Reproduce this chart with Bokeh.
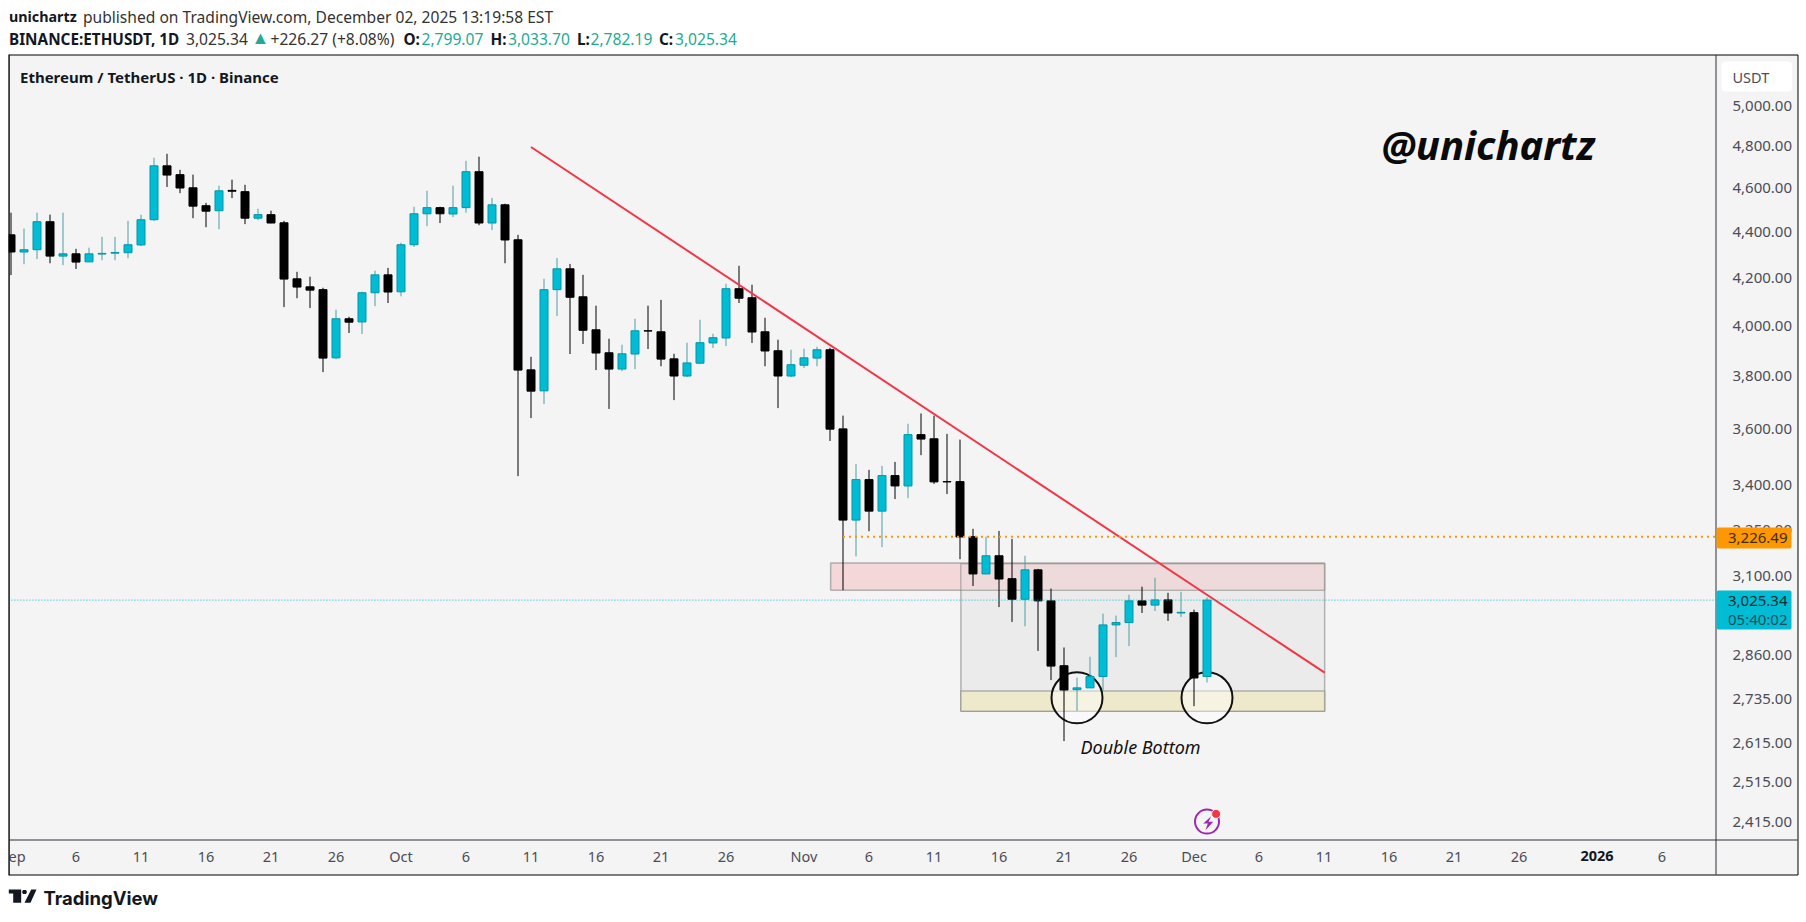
from bokeh.embed import file_html
from bokeh.models import BoxAnnotation, FixedTicker, Label, PolyAnnotation, Range1d
from bokeh.plotting import figure
from bokeh.resources import INLINE

# daily candles, 1 Sep - 2 Dec 2025
opens = [4387, 4311, 4321, 4446, 4293, 4303, 4268, 4302, 4306, 4308, 4342, 4455, 4706, 4664, 4602, 4519,
         4496, 4590, 4584, 4462, 4478, 4441, 4195, 4161, 4149, 3871, 4028, 4015, 4136, 4212, 4140, 4343,
         4482, 4510, 4481, 4510, 4678, 4440, 4523, 4365, 3824, 3743, 4149, 4238, 4119, 3983, 3891, 3827,
         3886, 3979, 3975, 3867, 3800, 3850, 3930, 3950, 4153, 4115, 3975, 3899, 3800, 3842, 3870, 3903,
         3601, 3282, 3420, 3312, 3434, 3398, 3580, 3565, 3413, 3413, 3227, 3107, 3165, 3092, 3028, 3120,
         3023, 2830, 2762, 2767, 2799, 2950, 2957, 3023, 3010, 3026, 2986, 2987, 2799.07]
highs = [4487, 4415, 4487, 4478, 4487, 4325, 4330, 4378, 4378, 4450, 4478, 4745, 4764, 4687, 4664, 4532,
         4612, 4640, 4616, 4505, 4496, 4450, 4225, 4204, 4157, 4065, 4036, 4140, 4230, 4242, 4352, 4514,
         4588, 4514, 4612, 4730, 4750, 4555, 4528, 4387, 3875, 4195, 4285, 4259, 4212, 4082, 3947, 3923,
         4028, 4082, 4106, 3887, 3931, 4024, 3967, 4174, 4251, 4170, 4032, 3943, 3903, 3907, 3915, 3911,
         3650, 3475, 3454, 3468, 3482, 3620, 3658, 3650, 3583, 3562, 3253, 3227, 3246, 3220, 3165, 3123,
         3061, 2883, 2796, 2856, 2984, 2978, 3042, 3067, 3095, 3048, 3051, 2996, 3033.70]
lows = [4211, 4258, 4280, 4262, 4254, 4237, 4267, 4275, 4275, 4284, 4337, 4449, 4606, 4577, 4462, 4421,
        4412, 4554, 4435, 4453, 4439, 4076, 4113, 4072, 3815, 3866, 3970, 3966, 4080, 4093, 4121, 4333,
        4426, 4440, 4467, 4487, 4430, 4408, 4262, 3432, 3641, 3693, 4039, 3886, 3926, 3823, 3675, 3819,
        3827, 3906, 3838, 3708, 3796, 3846, 3910, 3918, 4093, 3930, 3838, 3678, 3796, 3831, 3838, 3557,
        3056, 3163, 3245, 3193, 3353, 3356, 3506, 3405, 3370, 3154, 3069, 3107, 3004, 2959, 2946, 2873,
        2789, 2621, 2703, 2767, 2758, 2855, 2887, 2986, 2992, 2962, 2974, 2716, 2782.19]
closes = [4311, 4321, 4446, 4293, 4303, 4267, 4303, 4305, 4309, 4343, 4455, 4706, 4662, 4601, 4517, 4494,
          4588, 4586, 4462, 4478, 4440, 4194, 4160, 4147, 3870, 4028, 4014, 4136, 4212, 4139, 4343, 4482,
          4510, 4482, 4510, 4678, 4440, 4523, 4364, 3823, 3742, 4149, 4238, 4117, 3981, 3890, 3827, 3887,
          3979, 3978, 3866, 3800, 3851, 3931, 3951, 4153, 4113, 3974, 3898, 3800, 3844, 3871, 3903, 3600,
          3282, 3420, 3312, 3434, 3398, 3580, 3564, 3412, 3412, 3226, 3107, 3165, 3091, 3028, 3120, 3023,
          2829, 2761, 2767, 2799, 2950, 2957, 3023, 3010, 3026, 2986, 2988, 2795, 3025.34]

price_ticks = [5000, 4800, 4600, 4400, 4200, 4000, 3800, 3600, 3400, 3250, 3100, 2860, 2735, 2615, 2515, 2415]
date_ticks = [0, 5, 10, 15, 20, 25, 30, 35, 40, 45, 50, 55, 61, 66, 71, 76, 81, 86, 91, 96, 101, 106, 111, 116, 127]
date_labels = ["Sep", "6", "11", "16", "21", "26", "Oct", "6", "11", "16", "21", "26", "Nov", "6", "11", "16",
               "21", "26", "Dec", "6", "11", "16", "21", "26", "6"]

# drawings on the chart, day index / price
trend_days = [40, 101.05]
trend_prices = [4797, 2810]
last_price = 3025.34
level_price = 3226.49
level_start = 64
chart_end = 131.115
chart_floor = 2371
red_zone = (63.05, 101.05, 3142, 3056)
grey_zone = (73.07, 101.05, 3139, 2702)
yellow_zone = (73.07, 101.05, 2758, 2702)
overlap_zone = (73.07, 101.05, 3139, 3056)
bottom_days = [82, 92]
bottom_prices = [2739, 2739]

FONT = "Noto Sans"
DARK = "#131722"
GREEN = "#22ab94"
W, H = 1800, 915
SHIFT = 1  # canvas sits 1px lower than the picture's y

# the frame fills the canvas, labels outside the frame get clipped otherwise
p = figure(width=W, height=H, output_backend="svg", toolbar_location=None,
           y_axis_type="log", y_axis_location="right",
           x_range=Range1d(-10.5 / 13, (W - 10.5) / 13), y_range=Range1d(2195, 5568),
           min_border=0, background_fill_color="white", border_fill_color="white", outline_line_color=None)
p.grid.visible = False


def box(x0, y0, x1, y1, **kw):
    b = BoxAnnotation(left=x0, right=x1, top=H - y0 + SHIFT, bottom=H - y1 + SHIFT,
                      left_units="screen", right_units="screen", top_units="screen", bottom_units="screen", **kw)
    p.add_layout(b)


def text(x, y, s, size=15, color=DARK, style="normal", align="left", font=FONT):
    p.add_layout(Label(x=x, y=H - y + SHIFT, x_units="screen", y_units="screen", text=s, text_font=font,
                       text_font_size=f"{size}px", text_color=color, text_font_style=style,
                       text_align=align, text_baseline="middle"))


def poly(points, color):
    p.add_layout(PolyAnnotation(xs=[a for a, b in points], ys=[H - b + SHIFT for a, b in points],
                                xs_units="screen", ys_units="screen", fill_color=color, fill_alpha=1,
                                line_color=None, level="annotation"))


box(8.5, 55.5, 1797.5, 875.5, fill_color="#f4f4f4", fill_alpha=1, line_color="black", line_width=1, line_alpha=1,
    level="underlay")

p.xaxis.fixed_location = chart_floor
p.xaxis.ticker = FixedTicker(ticks=date_ticks)
p.xaxis.major_label_overrides = dict(zip(date_ticks, date_labels))
p.xaxis.major_label_standoff = 0
p.yaxis.fixed_location = chart_end
p.yaxis.ticker = FixedTicker(ticks=price_ticks)
p.yaxis.major_label_overrides = {v: f"{v:,.2f}" for v in price_ticks}
p.yaxis.major_label_standoff = 11
for ax in (p.xaxis[0], p.yaxis[0]):
    ax.axis_line_color = None
    ax.major_tick_line_color = None
    ax.minor_tick_line_color = None
    ax.major_label_text_font = FONT
    ax.major_label_text_color = "#4a4d57"
p.xaxis.major_label_text_font_size = "14.5px"
p.yaxis.major_label_text_font_size = "15px"

# zones under the candles
p.quad(left=[red_zone[0]], right=[red_zone[1]], top=[red_zone[2]], bottom=[red_zone[3]],
       fill_color="#f23645", fill_alpha=0.15, line_color="#808080", line_alpha=0.55, line_width=1.5)
p.quad(left=[grey_zone[0]], right=[grey_zone[1]], top=[grey_zone[2]], bottom=[grey_zone[3]],
       fill_color="#808080", fill_alpha=0.07, line_color="#808080", line_alpha=0.55, line_width=1.5)
p.quad(left=[overlap_zone[0]], right=[overlap_zone[1]], top=[overlap_zone[2]], bottom=[overlap_zone[3]],
       fill_color="white", fill_alpha=0.2, line_color=None)
p.quad(left=[yellow_zone[0]], right=[yellow_zone[1]], top=[yellow_zone[2]], bottom=[yellow_zone[3]],
       fill_color="#efe9cb", fill_alpha=1, line_color="#808080", line_alpha=0.55, line_width=1.5)
p.scatter(bottom_days, bottom_prices, size=51, fill_color="white", fill_alpha=0.45, line_color="#111111", line_width=2)

# candles
days = list(range(len(opens)))
up = [d for d in days if closes[d] >= opens[d]]
down = [d for d in days if closes[d] < opens[d]]
p.segment(down, [highs[d] for d in down], down, [lows[d] for d in down], line_color="black", line_width=1)
p.segment(up, [highs[d] for d in up], up, [lows[d] for d in up], line_color="#4f9ea6", line_width=1)
p.vbar(x=down, width=8 / 13, top=[opens[d] for d in down], bottom=[closes[d] for d in down],
       fill_color="black", line_color="black", line_width=1)
p.vbar(x=up, width=8 / 13, top=[closes[d] for d in up], bottom=[opens[d] for d in up],
       fill_color="#00bcd4", line_color="#0097a7", line_width=1)

# trend line and levels
p.line(trend_days, trend_prices, line_color="#f23645", line_width=2)
p.line([level_start, chart_end], [level_price, level_price], line_color="#ff9800", line_width=2, line_dash=[2, 4])
p.line([-0.2, chart_end], [last_price, last_price], line_color="#00bcd4", line_width=1, line_dash=[1, 2])

# the small flash icon
p.scatter([92], [2415], size=24, fill_color=None, line_color="#9c27b0", line_width=2)
p.scatter([92.7], [2434], size=9, fill_color="#f23645", line_color="#f4f4f4", line_width=1)
poly([(1210.7, 816.7), (1202.7, 824), (1207.3, 824), (1205, 830.7), (1212.7, 822.3), (1208, 822.3)], "#9c27b0")

# cut the first candle and the Sep label at the chart's left edge
box(0, 50, 8, 880, fill_color="white", fill_alpha=1, line_color=None)
box(8, 55, 9, 876, fill_color="black", fill_alpha=1, line_color=None)

# frame dividers
box(1715, 55.5, 1716, 875, fill_color="#2a2e39", fill_alpha=1, line_color=None)
box(8.5, 840, 1797, 841, fill_color="#2a2e39", fill_alpha=1, line_color=None)

# currency button and price tags
box(1721, 62, 1791.5, 92, fill_color="white", fill_alpha=1, line_color=None, border_radius=4)
text(1732, 77.5, "USDT", 14.5, "#4a4d57")
box(1716, 528, 1791, 549, fill_color="#ff9800", fill_alpha=1, line_color=None, border_radius=2)
text(1727.5, 538.5, "3,226.49", 15, "#3d2c10")
box(1716, 591, 1791, 630, fill_color="#00bcd4", fill_alpha=1, line_color=None, border_radius=2)
text(1727.5, 601.5, "3,025.34", 15, "#0b2c36")
text(1727.5, 619, "05:40:02", 15, "#0f4d5c")
text(1596.5, 856, "2026", 14.5, DARK, "bold", "center")

# header lines
text(8.5, 17, "unichartz", 14.3, DARK, "bold")
text(82.5, 17, "published on TradingView.com, December 02, 2025 13:19:58 EST", 15.6, "#333333")
text(8.5, 39, "BINANCE:ETHUSDT, 1D", 15.3, DARK, "bold")
text(185.5, 39, "3,025.34", 15.6, "#333333")
text(251, 37.5, "\u25b2", 18, GREEN)
text(270, 39, "+226.27 (+8.08%)", 15.6, "#333333")
for x_key, key, x_val, val in [(403, "O:", 421, "2,799.07"), (490, "H:", 507.5, "3,033.70"),
                               (576.5, "L:", 590, "2,782.19"), (658.5, "C:", 674.5, "3,025.34")]:
    text(x_key, 39, key, 15.3, DARK, "bold")
    text(x_val, 39, val, 15.6, GREEN)
text(19.5, 77, "Ethereum / TetherUS \u00b7 1D \u00b7 Binance", 15, DARK, "bold")

# drawn texts
text(1381, 145, "@unichartz", 40, "#0a0a0a", "bold italic")
text(1080, 747, "Double Bottom", 18, "#111111", "italic")

# TradingView mark
poly([(8.3, 890), (20.7, 890), (20.7, 903.3), (12.7, 903.3), (12.7, 894), (8.3, 894)], "#131722")
poly([(22.5, 890.5), (25.5, 890.5), (26.5, 892.5), (25.5, 894.5), (22.5, 894.5), (21.5, 892.5)], "#131722")
poly([(30.7, 890), (36, 890), (30, 903.3), (24, 903.3)], "#131722")
text(43, 898, "TradingView", 18.5, "#131722", "bold", font="Inter")

open("out.html", "w").write(file_html(p, INLINE))
